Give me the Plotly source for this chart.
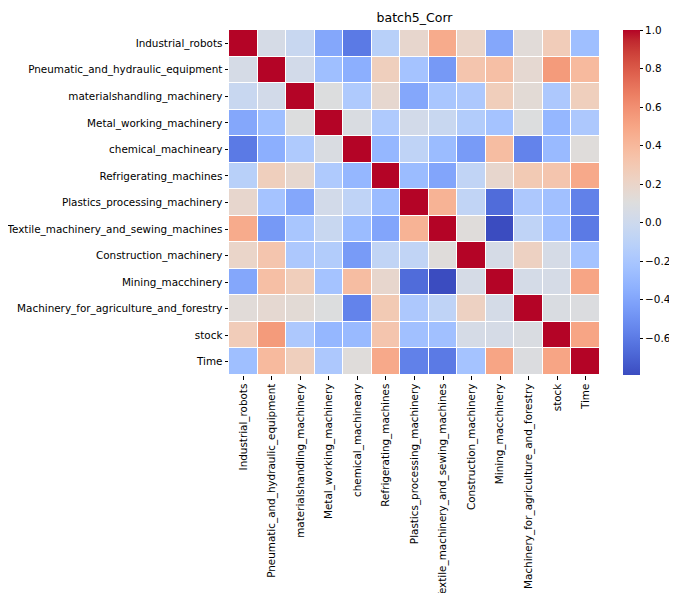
import plotly.graph_objects as go

labels = [
    "Industrial_robots",
    "Pneumatic_and_hydraulic_equipment",
    "materialshandling_machinery",
    "Metal_working_machinery",
    "chemical_machineary",
    "Refrigerating_machines",
    "Plastics_processing_machinery",
    "Textile_machinery_and_sewing_machines",
    "Construction_machinery",
    "Mining_macchinery",
    "Machinery_for_agriculture_and_forestry",
    "stock",
    "Time",
]

corr = [
    [1.00, 0.05, -0.03, -0.39, -0.60, -0.12, 0.18, 0.47, 0.20, -0.39, 0.13, 0.27, -0.25],
    [0.05, 1.00, 0.03, -0.25, -0.35, 0.25, -0.22, -0.46, 0.32, 0.36, 0.16, 0.55, 0.39],
    [-0.03, 0.03, 1.00, 0.10, -0.17, 0.17, -0.39, -0.20, -0.18, 0.26, 0.14, -0.18, 0.25],
    [-0.39, -0.25, 0.10, 1.00, 0.08, -0.17, 0.03, -0.03, -0.15, -0.22, 0.10, -0.30, -0.18],
    [-0.60, -0.35, -0.17, 0.08, 1.00, -0.30, -0.08, -0.27, -0.45, 0.37, -0.56, -0.28, 0.12],
    [-0.12, 0.25, 0.17, -0.17, -0.30, 1.00, -0.27, -0.40, -0.07, 0.18, 0.29, 0.32, 0.48],
    [0.18, -0.22, -0.39, 0.03, -0.08, -0.27, 1.00, 0.43, -0.07, -0.66, -0.18, -0.24, -0.57],
    [0.47, -0.46, -0.20, -0.03, -0.27, -0.40, 0.43, 1.00, 0.12, -0.79, -0.08, -0.24, -0.60],
    [0.20, 0.32, -0.18, -0.15, -0.45, -0.07, -0.07, 0.12, 1.00, 0.05, 0.23, 0.05, -0.22],
    [-0.39, 0.36, 0.26, -0.22, 0.37, 0.18, -0.66, -0.79, 0.05, 1.00, 0.04, 0.05, 0.50],
    [0.13, 0.16, 0.14, 0.10, -0.56, 0.29, -0.18, -0.08, 0.23, 0.04, 1.00, 0.08, 0.09],
    [0.27, 0.55, -0.18, -0.30, -0.28, 0.32, -0.24, -0.24, 0.05, 0.05, 0.08, 1.00, 0.50],
    [-0.25, 0.39, 0.25, -0.18, 0.12, 0.48, -0.57, -0.60, -0.22, 0.50, 0.09, 0.50, 1.00],
]

cbar_ticks = [-0.6, -0.4, -0.2, 0.0, 0.2, 0.4, 0.6, 0.8, 1.0]
cbar_text = ["\u22120.6", "\u22120.4", "\u22120.2", "0.0", "0.2", "0.4", "0.6", "0.8", "1.0"]

coolwarm_rgb = [
    (59, 76, 192), (68, 90, 204), (77, 104, 215), (87, 117, 225), (98, 130, 234),
    (108, 142, 241), (119, 154, 247), (130, 165, 251), (141, 176, 254), (152, 185, 255),
    (163, 194, 255), (174, 201, 253), (184, 208, 249), (194, 213, 244), (204, 217, 238),
    (213, 219, 230), (221, 221, 221), (229, 216, 209), (236, 211, 197), (241, 204, 184),
    (245, 196, 172), (247, 187, 159), (247, 177, 147), (247, 166, 134), (244, 154, 123),
    (241, 141, 112), (236, 127, 99), (229, 112, 89), (222, 96, 77), (213, 80, 66),
    (203, 62, 56), (192, 40, 47), (180, 4, 38),
]
n = len(coolwarm_rgb)
colorscale = [[i / (n - 1), "rgb(%d,%d,%d)" % c] for i, c in enumerate(coolwarm_rgb)]

zmin = min(min(r) for r in corr)
zmax = 1.0

font = "DejaVu Sans, sans-serif"

# page body has an 8px default margin; size the figure so the drawing lands where the reference has it
W, H = 669, 585

fig = go.Figure(
    go.Heatmap(
        z=corr,
        x=labels,
        y=labels,
        colorscale=colorscale,
        zmin=zmin,
        zmax=zmax,
        xgap=1,
        ygap=1,
        colorbar=dict(
            x=1.062,
            xanchor="left",
            xpad=0,
            ypad=0,
            y=0.5,
            yanchor="middle",
            len=1,
            lenmode="fraction",
            thickness=17,
            thicknessmode="pixels",
            outlinewidth=0,
            ticks="outside",
            ticklen=3.5,
            tickwidth=0.8,
            tickcolor="black",
            tickvals=cbar_ticks,
            ticktext=cbar_text,
            tickfont=dict(family=font, size=10.4, color="black"),
        ),
    )
)

fig.update_layout(
    width=W,
    height=H,
    margin=dict(l=221, r=77, t=22, b=218, autoexpand=False),
    paper_bgcolor="white",
    plot_bgcolor="white",
    title=dict(
        text="batch5_Corr",
        x=0.5,
        xref="paper",
        xanchor="center",
        y=1 - 10 / H,
        yref="container",
        yanchor="middle",
        font=dict(family=font, size=12.5, color="black"),
    ),
    font=dict(family=font, size=10.4, color="black"),
)

fig.update_xaxes(
    automargin=False,
    tickangle=-90,
    ticks="outside",
    ticklen=3.5,
    tickwidth=0.8,
    tickcolor="black",
    showgrid=False,
    zeroline=False,
    showline=False,
    tickfont=dict(family=font, size=10.4, color="black"),
)
fig.update_yaxes(
    automargin=False,
    autorange="reversed",
    ticks="outside",
    ticklen=3.5,
    tickwidth=0.8,
    tickcolor="black",
    showgrid=False,
    zeroline=False,
    showline=False,
    tickfont=dict(family=font, size=10.4, color="black"),
)

fig.write_html("out.html")
